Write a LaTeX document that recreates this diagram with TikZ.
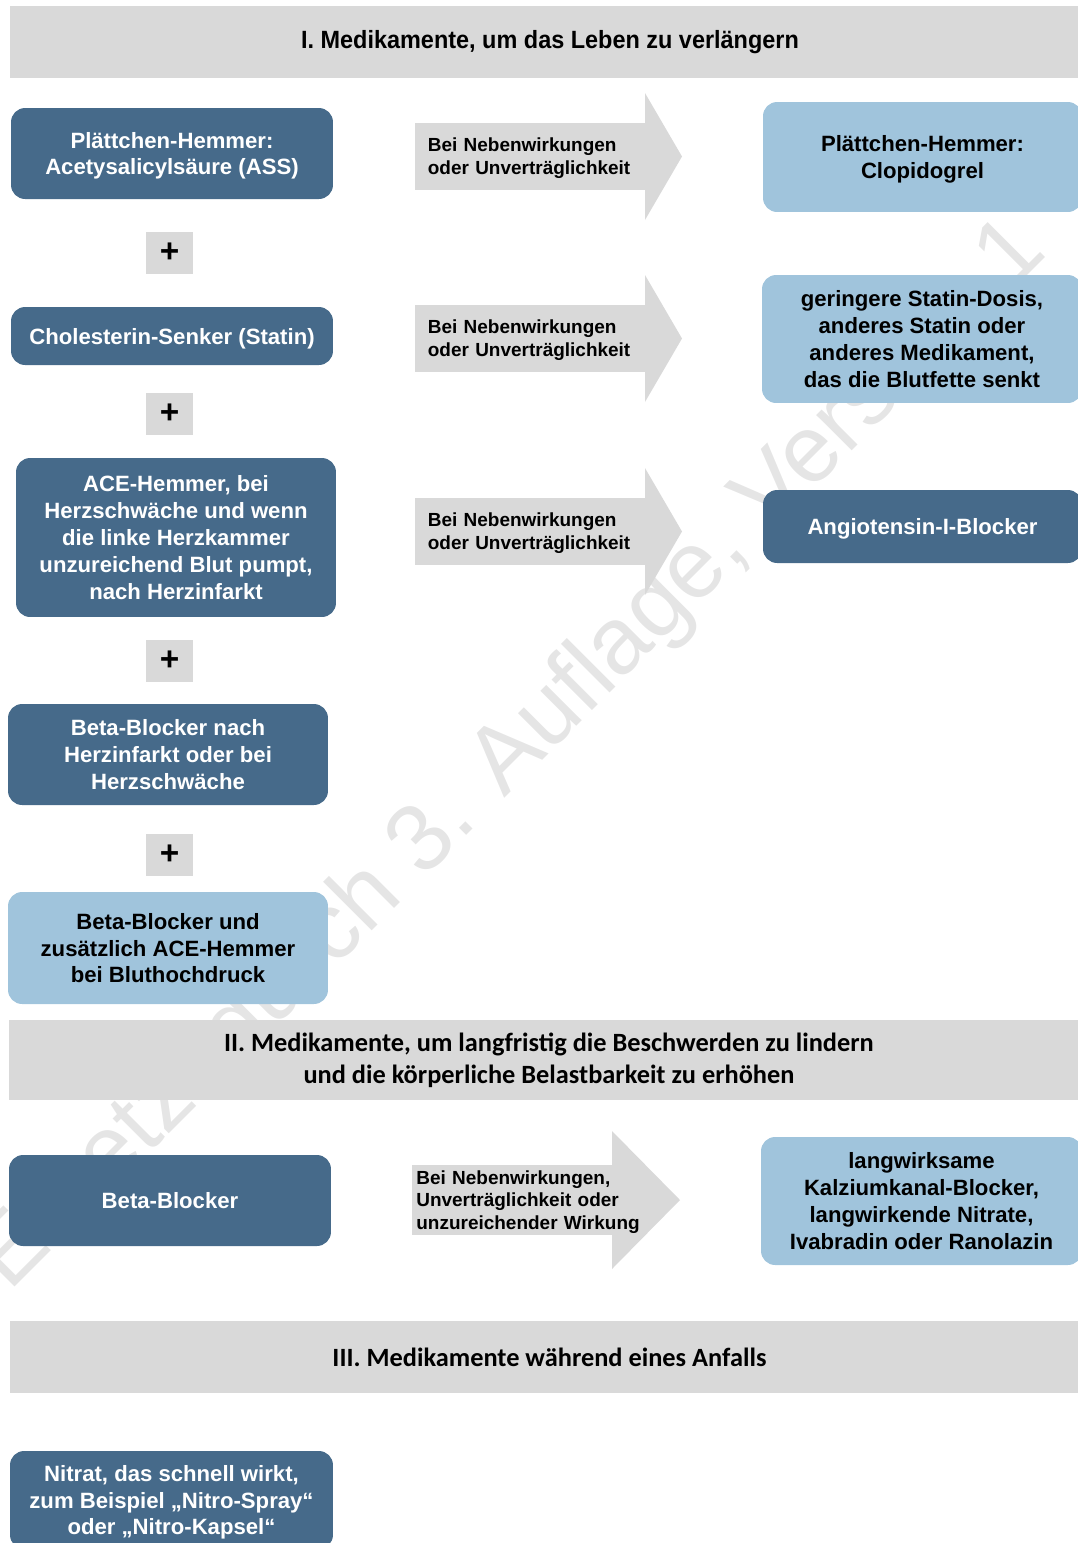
\documentclass[tikz,border=0pt]{standalone}
\usepackage{fontspec}
\setmainfont{Liberation Sans}
\newfontfamily\calibri{Carlito}
\newfontfamily\narrow[FakeStretch=0.94]{Liberation Sans}
\definecolor{darkblue}{RGB}{70,106,138}
\definecolor{lightblue}{RGB}{160,196,220}
\definecolor{barfill}{RGB}{217,217,217}
\definecolor{stamp}{RGB}{229,229,229}
\newcommand\Head[4]{\fill[barfill] (#1) ++(#2,-#3) -- ++(#4,#3) -- ++(-#4,#3) -- cycle;}

\begin{document}
\begin{tikzpicture}[x=0.02cm,y=-0.02cm,inner sep=0pt]

  \tikzstyle{drug}=[rectangle,rounded corners=8pt,align=center,text depth=0pt,
                    font=\fontsize{12.6}{15.3}\selectfont\bfseries]
  \tikzstyle{first}=[drug,fill=darkblue,text=white]
  \tikzstyle{second}=[drug,fill=lightblue,text=black]
  \tikzstyle{bar}=[rectangle,fill=barfill,align=center,minimum width=21.6cm,
                   font=\calibri\fontsize{15}{18.1}\selectfont\bfseries]
  \tikzstyle{plus}=[rectangle,fill=barfill,minimum width=0.94cm,minimum height=0.84cm,
                    text depth=0pt,font=\fontsize{19}{19}\selectfont\bfseries]
  \tikzstyle{cond}=[rectangle,fill=barfill,anchor=west,align=left,text depth=13pt,
                    font=\fontsize{10.8}{13}\selectfont\bfseries]

  \useasboundingbox (0,0) rectangle (1078,1543);

  \node[rotate=45,text=stamp,font=\fontsize{54}{54}\selectfont] (STAMP) at (512,756)
       {Ersetzt durch 3. Auflage, Version 1};

  % I.
  \node[bar,minimum height=1.44cm,font=\narrow\fontsize{14.2}{17}\selectfont\bfseries]
       (BAR1) at (550,42) {I. Medikamente, um das Leben zu verlängern};

  \node[first,minimum width=6.44cm,minimum height=1.82cm] (ASS)  at (172,153.5)
       {Plättchen-Hemmer:\\Acetysalicylsäure (ASS)};
  \node[plus] (P1) at (169.5,253)   {+};
  \node[first,minimum width=6.44cm,minimum height=1.16cm] (STA)  at (172,336)
       {Cholesterin-Senker (Statin)};
  \node[plus] (P2) at (169.5,413.5) {+};
  \node[first,minimum width=6.4cm,minimum height=3.18cm]  (ACE)  at (176,537.5)
       {ACE-Hemmer, bei\\Herzschwäche und wenn\\die linke Herzkammer\\unzureichend Blut pumpt,\\nach Herzinfarkt};
  \node[plus] (P3) at (169.5,661)   {+};
  \node[first,minimum width=6.4cm,minimum height=2.02cm]  (BBN)  at (168,754.5)
       {Beta-Blocker nach\\Herzinfarkt oder bei\\Herzschwäche};
  \node[plus] (P4) at (169.5,854.5) {+};
  \node[second,minimum width=6.4cm,minimum height=2.24cm] (BBU)  at (168,948)
       {Beta-Blocker und\\zusätzlich ACE-Hemmer\\bei Bluthochdruck};

  \foreach \n/\y in {1/156.5,2/338.5,3/531.5}
  {
    \coordinate (T\n) at (415,\y);
    \Head{T\n}{230}{63.5}{37}
    \node[cond,text width=4.1cm,inner xsep=0.25cm,minimum height=1.34cm] (C\n) at (T\n)
         {Bei Nebenwirkungen\\oder Unverträglichkeit};
  }

  \node[second,minimum width=6.38cm,minimum height=2.2cm]  (CLO)  at (922.5,157)
       {Plättchen-Hemmer:\\Clopidogrel};
  \node[second,minimum width=6.4cm,minimum height=2.56cm]  (ALT)  at (922,339)
       {geringere Statin-Dosis,\\anderes Statin oder\\anderes Medikament,\\das die Blutfette senkt};
  \node[first,minimum width=6.38cm,minimum height=1.46cm]  (ANG)  at (922.5,526.5)
       {Angiotensin-I-Blocker};

  % II.
  \node[bar,minimum height=1.6cm] (BAR2) at (549,1060)
       {II. Medikamente, um langfristig die Beschwerden zu lindern\\und die körperliche Belastbarkeit zu erhöhen};

  \node[first,minimum width=6.44cm,minimum height=1.82cm] (BB)   at (170,1200.5)
       {Beta-Blocker};
  \coordinate (T4) at (412,1200);
  \Head{T4}{200}{69}{68}
  \node[cond,text width=4.5cm,inner xsep=0.08cm,minimum height=1.4cm,text depth=26pt]
       (C4) at (T4) {Bei Nebenwirkungen,\\Unverträglichkeit oder\\unzureichender Wirkung};
  \node[second,minimum width=6.42cm,minimum height=2.56cm] (LANG) at (921.5,1201)
       {langwirksame\\Kalziumkanal-Blocker,\\langwirkende Nitrate,\\Ivabradin oder Ranolazin};

  % III.
  \node[bar,minimum height=1.44cm] (BAR3) at (549.5,1357)
       {III. Medikamente während eines Anfalls};

  \node[first,minimum width=6.46cm,minimum height=1.96cm] (NIT)  at (171.5,1500)
       {Nitrat, das schnell wirkt,\\zum Beispiel „Nitro-Spray“\\oder „Nitro-Kapsel“};

\end{tikzpicture}
\end{document}
